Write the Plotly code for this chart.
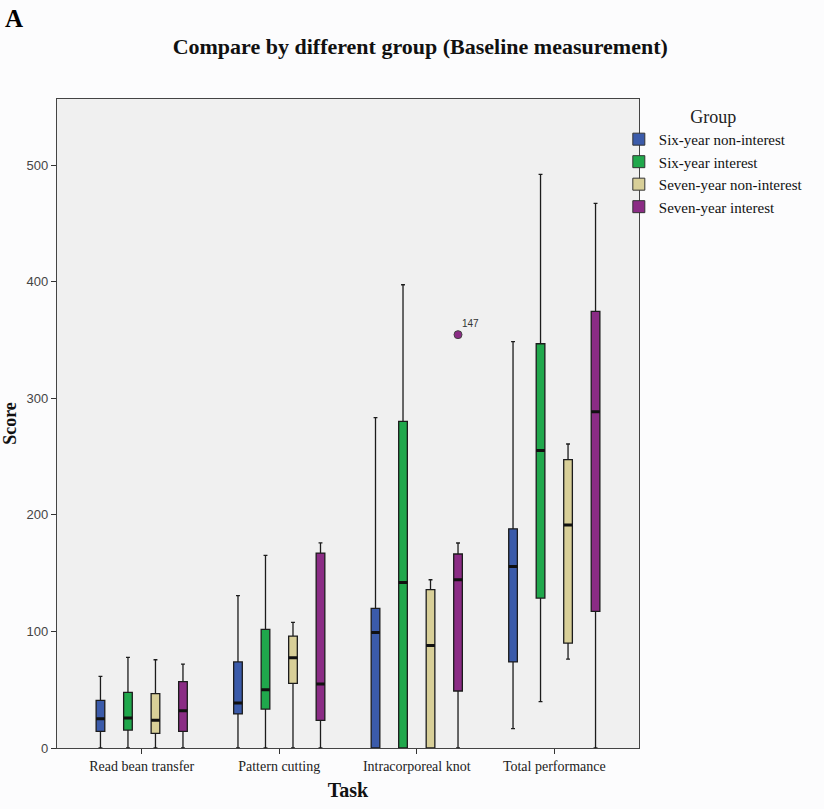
import plotly.graph_objects as go

tasks = ["Read bean transfer", "Pattern cutting", "Intracorporeal knot", "Total performance"]
groups = ["Six-year non-interest", "Six-year interest", "Seven-year non-interest", "Seven-year interest"]
colors = ["#3B5BAA", "#20A84C", "#D8CF98", "#8B2C85"]

# per group: values for each task (lower fence, Q1, median, Q3, upper fence)
six_non_low = [0, 0, 0, 16.6]
six_non_q1 = [14.3, 29.2, 0, 73.8]
six_non_med = [25.1, 38.6, 99.1, 155.7]
six_non_q3 = [40.8, 73.8, 119.7, 188.0]
six_non_up = [61.4, 130.6, 283.3, 348.5]

six_int_low = [0, 0, 0, 39.7]
six_int_q1 = [15.4, 33.4, 0, 128.6]
six_int_med = [25.7, 50.0, 142.0, 255.2]
six_int_q3 = [47.7, 101.7, 280.1, 346.7]
six_int_up = [77.7, 165.2, 397.3, 492.0]

sev_non_low = [0, 0, 0, 76.3]
sev_non_q1 = [12.5, 55.4, 0, 90.0]
sev_non_med = [23.7, 77.4, 88.0, 191.3]
sev_non_q3 = [46.6, 96.0, 135.8, 247.3]
sev_non_up = [75.7, 107.7, 144.3, 260.7]

sev_int_low = [0, 0, 0, 0]
sev_int_q1 = [14.3, 23.7, 48.9, 117.2]
sev_int_med = [32.0, 54.9, 144.3, 288.4]
sev_int_q3 = [56.9, 167.2, 166.4, 374.5]
sev_int_up = [72.0, 176.0, 175.8, 467.0]

outlier_task = "Intracorporeal knot"
outlier_group = "Seven-year interest"
outlier_value = 354.5
outlier_label = "147"

stats = [
    (six_non_low, six_non_q1, six_non_med, six_non_q3, six_non_up),
    (six_int_low, six_int_q1, six_int_med, six_int_q3, six_int_up),
    (sev_non_low, sev_non_q1, sev_non_med, sev_non_q3, sev_non_up),
    (sev_int_low, sev_int_q1, sev_int_med, sev_int_q3, sev_int_up),
]

SLOT = 0.2
BOXW = 0.063


def pos(task_idx, group_idx):
    return task_idx + (group_idx - (len(groups) - 1) / 2) * SLOT


serif = "Liberation Serif"
sans = "Liberation Sans"

fig = go.Figure()

for g, (name, col, st) in enumerate(zip(groups, colors, stats)):
    low, q1, med, q3, up = st
    xs = [pos(i, g) for i in range(len(tasks))]
    fig.add_trace(go.Box(
        x=xs, q1=q1, median=med, q3=q3, lowerfence=low, upperfence=up,
        name=name, fillcolor=col, width=BOXW, whiskerwidth=0.45,
        line=dict(color="#1c1c1c", width=1.3), showlegend=False,
        boxpoints=False, hoverinfo="skip",
    ))
    # thicker median bar
    fig.add_trace(go.Box(
        x=xs, q1=med, median=med, q3=med, lowerfence=med, upperfence=med,
        fillcolor="rgba(0,0,0,0)", width=BOXW, whiskerwidth=0,
        line=dict(color="#111111", width=3), showlegend=False,
        boxpoints=False, hoverinfo="skip",
    ))
    # legend swatch
    fig.add_trace(go.Bar(
        x=[None], y=[None], name=name,
        marker=dict(color=col, line=dict(color="#333333", width=1)),
    ))

ox = pos(tasks.index(outlier_task), groups.index(outlier_group))
fig.add_trace(go.Scatter(
    x=[ox], y=[outlier_value], mode="markers", showlegend=False,
    marker=dict(color=colors[groups.index(outlier_group)], size=8,
                line=dict(color="#444444", width=1)),
    hoverinfo="skip",
))
fig.add_annotation(x=ox, y=outlier_value, text=outlier_label, showarrow=False,
                   xanchor="left", yanchor="bottom", xshift=2, yshift=4,
                   font=dict(family=sans, size=10, color="#333333"))

fig.add_annotation(xref="paper", yref="paper", x=-0.092, y=1.148, xanchor="left",
                   yanchor="top", showarrow=False, text="<b>A</b>",
                   font=dict(family=serif, size=25, color="#000000"))

fig.update_layout(
    width=824, height=809,
    margin=dict(l=57, r=185, t=99, b=61, autoexpand=False),
    paper_bgcolor="#fcfcfd", plot_bgcolor="#f0f0f0",
    title=dict(text="<b>Compare by different group (Baseline measurement)</b>",
               x=0.51, xanchor="center", y=0.943, yanchor="middle",
               font=dict(family=serif, size=22, color="#111111")),
    showlegend=True,
    legend=dict(
        xref="container", yref="container",
        x=0.751, y=0.877, xanchor="left", yanchor="top",
        title=dict(text="Group", side="top center",
                   font=dict(family=serif, size=18, color="#222222")),
        font=dict(family=serif, size=15, color="#111111"),
        bgcolor="rgba(0,0,0,0)", itemwidth=30, tracegroupgap=0,
        traceorder="normal",
    ),
    bargap=0.5,
)

fig.update_xaxes(
    range=[-0.616, 3.616], tickmode="array", tickvals=list(range(len(tasks))),
    ticktext=tasks, ticks="outside", ticklen=5, tickcolor="#333333",
    showgrid=False, zeroline=False, showline=True, linecolor="#444444",
    linewidth=1.2, mirror=True, automargin=False,
    tickfont=dict(family=serif, size=14, color="#222222"),
    title=dict(text="<b>Task</b>", font=dict(family=serif, size=20, color="#111111"),
               standoff=10),
)
fig.update_yaxes(
    range=[0, 556.6], tickmode="linear", tick0=0, dtick=100,
    ticks="outside", ticklen=5, tickcolor="#333333",
    showgrid=False, zeroline=False, showline=True, linecolor="#444444",
    linewidth=1.2, mirror=True, automargin=False,
    tickfont=dict(family=sans, size=13, color="#444444"),
    title=dict(text="<b>Score</b>", font=dict(family=serif, size=18, color="#111111"),
               standoff=8),
)

fig.write_html("out.html")
